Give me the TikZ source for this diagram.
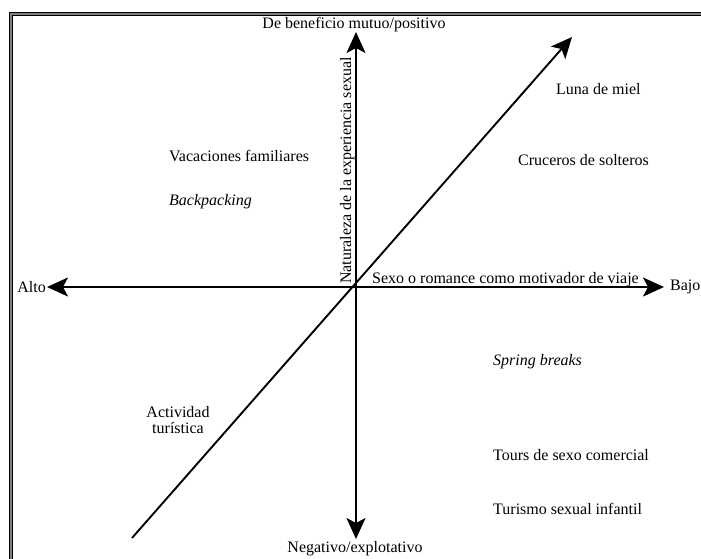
\documentclass[tikz,border=0pt]{standalone}
\usepackage{fontspec}
\setmainfont{Liberation Serif}
\usetikzlibrary{arrows.meta}
\begin{document}
\begin{tikzpicture}[x=1pt,y=-1pt,font=\fontsize{16}{14}\selectfont,
  axis/.style={line width=1.9pt,-{Stealth[length=21pt,width=19pt,inset=5pt]}},
  lbl/.style={anchor=west,inner sep=0pt}]
  \useasboundingbox (0,0) rectangle (701,558);
  % marco
  \draw[line width=1.1pt,double=gray,double distance=1.6pt,line join=miter] (11.2,560) -- (11.2,14) -- (703,14);
  % ejes
  \coordinate (hl) at (47,287);
  \coordinate (hr) at (664,287);
  \coordinate (vt) at (356,32);
  \coordinate (vb) at (356,539);
  \coordinate (o) at (356,287);
  \coordinate (dl) at (132,538);
  \coordinate (dr) at (572,37);
  \draw[axis] (o) -- (hl);
  \draw[axis] (o) -- (hr);
  \draw[axis] (o) -- (vt);
  \draw[axis] (o) -- (vb);
  \draw[axis] (dl) -- (dr);
  % extremos de los ejes
  \node[anchor=east,inner sep=0pt] (alto) at (46,287) {Alto};
  \node[lbl] (bajo) at (670,287) {Bajo};
  \node[inner sep=0pt] (pos) at (354,25) {De beneficio mutuo/positivo};
  \node[inner sep=0pt] (neg) at (355,549) {Negativo/explotativo};
  \node[anchor=base west,rotate=90,inner sep=0pt] (nat) at (351,284) {Naturaleza de la experiencia sexual};
  \node[anchor=base west,inner sep=0pt] (sexo) at (372,283) {Sexo o romance como motivador de viaje};
  % tipos de viaje
  \node[lbl] (luna) at (556,89) {Luna de miel};
  \node[lbl] (cruc) at (518,160) {Cruceros de solteros};
  \node[lbl] (vac) at (169,156) {Vacaciones familiares};
  \node[lbl] (back) at (169,202) {\itshape Backpacking};
  \node[lbl] (spring) at (493,362) {\itshape Spring breaks};
  \node[lbl] (tours) at (493,455) {Tours de sexo comercial};
  \node[lbl] (infantil) at (493,509) {Turismo sexual infantil};
  \node[inner sep=0pt,align=center,font=\fontsize{16}{15.5}\selectfont] (act) at (178,420) {Actividad\\tur\'istica};
\end{tikzpicture}
\end{document}
